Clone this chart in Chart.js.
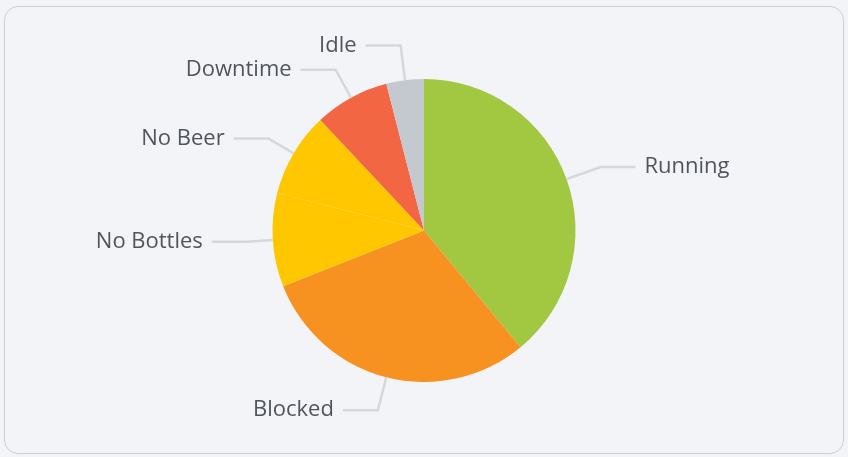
<!DOCTYPE html>
<html>
<head>
<meta charset="utf-8">
<script src="https://cdn.jsdelivr.net/npm/chart.js@4.4.1/dist/chart.umd.min.js"></script>
<style>
  html, body { margin: 0; padding: 0; background: #f3f4f8; }
  #card {
    position: absolute; left: 4px; top: 6px; width: 838px; height: 446px;
    border: 1px solid #c9ced8; border-radius: 14px; background: #f3f4f8;
  }
  #wrap { position: absolute; left: 0; top: 0; width: 848px; height: 457px; }
</style>
</head>
<body>
<div id="card"></div>
<div id="wrap"><canvas id="stateChart"></canvas></div>
<script>
var labels = ['Running', 'Blocked', 'No Bottles', 'No Beer', 'Downtime', 'Idle'];
var values = [39, 30, 10, 9, 8, 4];
var colors = ['#a2c741', '#f79221', '#ffc700', '#ffc700', '#f26644', '#c4c8cf'];

// draws the label lines and names outside the pie
var outsideLabels = {
    id: 'outsideLabels',
    afterDatasetsDraw: function (chart, args, opts) {
        var c = chart.ctx;
        var arcs = chart.getDatasetMeta(0).data;
        c.save();
        c.font = '22px "Open Sans", "Noto Sans", sans-serif';
        c.textBaseline = 'middle';
        arcs.forEach(function (arc, i) {
            var p = arc.getProps(['x', 'y', 'startAngle', 'endAngle', 'outerRadius'], true);
            var mid = (p.startAngle + p.endAngle) / 2;
            var cos = Math.cos(mid), sin = Math.sin(mid);
            var len = opts.len[i];
            var x1 = p.x + cos * p.outerRadius, y1 = p.y + sin * p.outerRadius;
            var x2 = p.x + cos * (p.outerRadius + len), y2 = p.y + sin * (p.outerRadius + len);
            var right = cos >= 0;
            var x3 = x2 + (right ? 35 : -35);
            c.strokeStyle = '#d6d7da';
            c.lineWidth = 2.5;
            c.beginPath();
            c.moveTo(x1, y1);
            c.lineTo(x2, y2);
            c.lineTo(x3, y2);
            c.stroke();
            c.fillStyle = '#50555c';
            c.textAlign = right ? 'left' : 'right';
            c.fillText(labels[i], x3 + (right ? 9 : -9), y2);
        });
        c.restore();
    }
};

var ctx = document.getElementById('stateChart');
var myChart = new Chart(ctx, {
    type: 'pie',
    data: {
        labels: labels,
        datasets: [{
            data: values,
            backgroundColor: colors,
            borderWidth: 0
        }]
    },
    options: {
        responsive: true,
        maintainAspectRatio: false,
        animation: false,
        layout: {
            padding: { top: 79, bottom: 75, left: 100, right: 100 }
        },
        plugins: {
            legend: { display: false },
            tooltip: { enabled: false },
            outsideLabels: { len: [36, 34, 26, 29, 32, 35] }
        }
    },
    plugins: [outsideLabels]
});
</script>
</body>
</html>
